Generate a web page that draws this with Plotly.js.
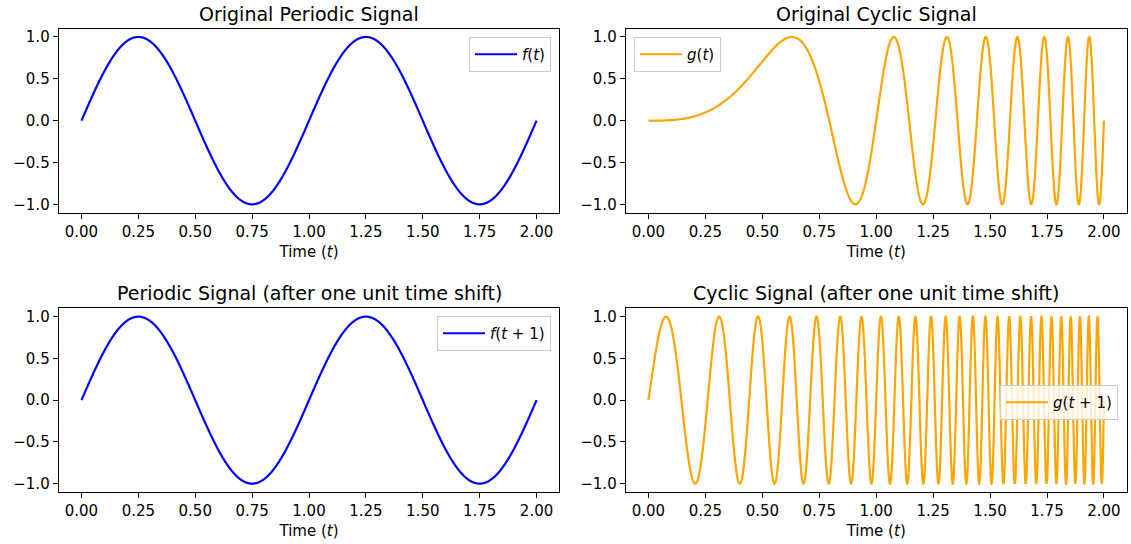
<!DOCTYPE html>
<html>
<head>
<meta charset="utf-8">
<script src="https://cdn.plot.ly/plotly-3.0.1.min.js"></script>
<style>html,body{margin:0;padding:0;background:#fff;}#chart{width:1131px;height:544px;}</style>
</head>
<body>
<div id="chart"></div>
<script>
// Chart content
const subplotTitles = ["Original Periodic Signal", "Original Cyclic Signal",
  "Periodic Signal (after one unit time shift)", "Cyclic Signal (after one unit time shift)"];
const seriesNames = ["<i>f</i>(<i>t</i>)", "<i>g</i>(<i>t</i>)", "<i>f</i>(<i>t</i> + 1)", "<i>g</i>(<i>t</i> + 1)"];
const xTickVals = [0, 0.25, 0.5, 0.75, 1.0, 1.25, 1.5, 1.75, 2.0];
const xTickText = ["0.00", "0.25", "0.50", "0.75", "1.00", "1.25", "1.50", "1.75", "2.00"];
const yTickVals = [-1.0, -0.5, 0.0, 0.5, 1.0];
const yTickText = ["\u22121.0", "\u22120.5", "0.0", "0.5", "1.0"];
const xLabel = "Time (<i>t</i>)";
// The plotted signals are the functions the reference draws:
// f(t) = sin(2πt) (period 1) and g(t) = sin(2πt³) (chirp), sampled on t ∈ [0, 2].
const nSamples = 3000;
const tStart = 0, tEnd = 2;
const tValues = Array.from({length: nSamples}, (_, i) => tStart + (tEnd - tStart) * i / (nSamples - 1));
const f = t => Math.sin(2 * Math.PI * t);
const g = t => Math.sin(2 * Math.PI * t * t * t);
const fValues = tValues.map(f);
const gValues = tValues.map(g);
const fShifted = tValues.map(t => f(t + 1));
const gShifted = tValues.map(t => g(t + 1));

const W = 1131, H = 544;
const font = {family: "DejaVu Sans, sans-serif", color: "#000"};
const blue = "#0000ff", orange = "#ffa500";
const tickSize = 15, titleSize = 19, legendSize = 15;

const traces = [
  {x: tValues, y: fValues, name: seriesNames[0], xaxis: "x", yaxis: "y", legend: "legend", line: {color: blue}},
  {x: tValues, y: gValues, name: seriesNames[1], xaxis: "x2", yaxis: "y2", legend: "legend2", line: {color: orange}},
  {x: tValues, y: fShifted, name: seriesNames[2], xaxis: "x3", yaxis: "y3", legend: "legend3", line: {color: blue}},
  {x: tValues, y: gShifted, name: seriesNames[3], xaxis: "x4", yaxis: "y4", legend: "legend4", line: {color: orange}}
].map(tr => {
  tr.line.width = 2.2; tr.line.simplify = false;
  return Object.assign(tr, {type: "scatter", mode: "lines", showlegend: true});
});

const colDom = [[58.7 / W, 559.3 / W], [625.7 / W, 1126.7 / W]];
const rowDom = [[1 - 212.7 / H, 1 - 28.6 / H], [1 - 492 / H, 1 - 308.3 / H]];

function xax(dom, anchor) {
  return {domain: dom, anchor: anchor, range: [-0.1, 2.1], tickvals: xTickVals, ticktext: xTickText,
    showgrid: false, zeroline: false, showline: true, mirror: true, linecolor: "#000", linewidth: 1,
    ticks: "outside", ticklen: 5, tickwidth: 1, tickcolor: "#000",
    tickfont: Object.assign({size: tickSize}, font),
    title: {text: xLabel, font: Object.assign({size: tickSize}, font), standoff: 6}};
}
function yax(dom, anchor) {
  return {domain: dom, anchor: anchor, range: [-1.1, 1.1], tickvals: yTickVals, ticktext: yTickText,
    showgrid: false, zeroline: false, showline: true, mirror: true, linecolor: "#000", linewidth: 1,
    ticks: "outside", ticklen: 5, tickwidth: 1, tickcolor: "#000",
    tickfont: Object.assign({size: tickSize}, font)};
}
function leg(x, xanchor, y) {
  return {x: x, xanchor: xanchor, y: y, yanchor: "top", xref: "paper", yref: "paper",
    bgcolor: "rgba(255,255,255,0.8)", bordercolor: "#cccccc", borderwidth: 1,
    font: Object.assign({size: legendSize}, font), itemwidth: 42};
}

const centers = [(colDom[0][0] + colDom[0][1]) / 2, (colDom[1][0] + colDom[1][1]) / 2];
const annotations = subplotTitles.map((txt, i) => ({
  text: txt, xref: "paper", yref: "paper", showarrow: false,
  x: centers[i % 2], xanchor: "center",
  y: i < 2 ? 1 - 14 / H : 1 - 293 / H, yanchor: "middle",
  font: Object.assign({size: titleSize}, font)
}));

const layout = {
  width: W, height: H, margin: {l: 0, r: 0, t: 0, b: 0},
  paper_bgcolor: "#fff", plot_bgcolor: "#fff", font: font,
  xaxis: xax(colDom[0], "y"), yaxis: yax(rowDom[0], "x"),
  xaxis2: xax(colDom[1], "y2"), yaxis2: yax(rowDom[0], "x2"),
  xaxis3: xax(colDom[0], "y3"), yaxis3: yax(rowDom[1], "x3"),
  xaxis4: xax(colDom[1], "y4"), yaxis4: yax(rowDom[1], "x4"),
  legend: leg(551 / W, "right", 1 - 37 / H),
  legend2: leg(634 / W, "left", 1 - 37 / H),
  legend3: leg(551 / W, "right", 1 - 316 / H),
  legend4: leg(1118 / W, "right", 1 - 385 / H),
  annotations: annotations,
  showlegend: true
};

Plotly.newPlot("chart", traces, layout, {staticPlot: true, displayModeBar: false});
</script>
</body>
</html>
